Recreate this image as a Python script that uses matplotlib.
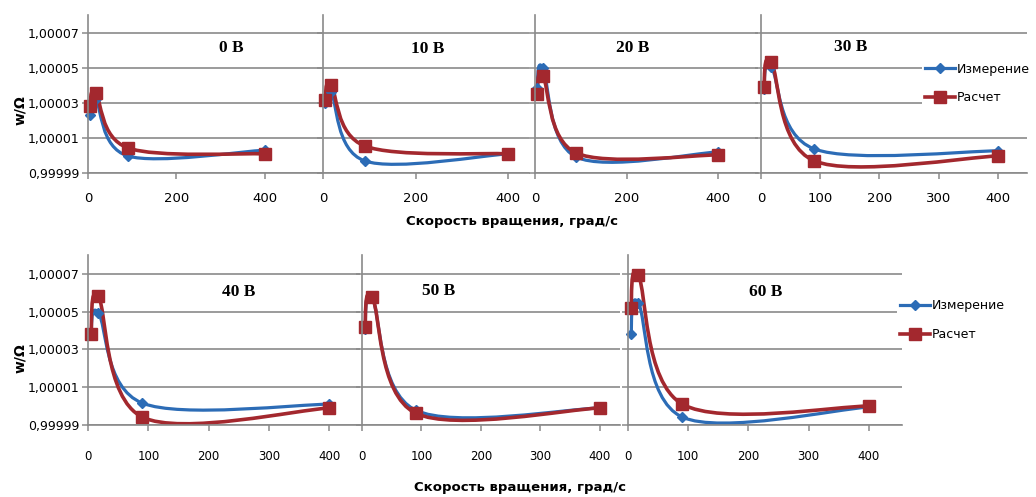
import numpy as np
import matplotlib
matplotlib.use("Agg")
import matplotlib.pyplot as plt
from matplotlib.path import Path
from matplotlib.patches import PathPatch
from matplotlib.lines import Line2D
from matplotlib.ticker import FuncFormatter

# ---- данные ----
speed = [5, 17, 90, 400]  # скорость вращения, град/с

voltages = ["0 В", "10 В", "20 В", "30 В", "40 В", "50 В", "60 В"]

izmerenie = [
    [1.0000231, 1.0000320, 0.9999997, 1.0000030],   # 0 В
    [1.0000300, 1.0000363, 0.9999969, 1.0000009],   # 10 В
    [1.0000386, 1.0000500, 0.9999991, 1.0000020],   # 20 В
    [1.0000380, 1.0000506, 1.0000037, 1.0000026],   # 30 В
    [1.0000374, 1.0000495, 1.0000016, 1.0000010],   # 40 В
    [1.0000410, 1.0000575, 0.9999979, 0.9999990],   # 50 В
    [1.0000384, 1.0000547, 0.9999942, 0.9999995],   # 60 В
]
raschet = [
    [1.0000283, 1.0000357, 1.0000043, 1.0000009],   # 0 В
    [1.0000317, 1.0000403, 1.0000054, 1.0000009],   # 10 В
    [1.0000351, 1.0000454, 1.0000014, 1.0000003],   # 20 В
    [1.0000391, 1.0000534, 0.9999969, 0.9999997],   # 30 В
    [1.0000384, 1.0000584, 0.9999942, 0.9999990],   # 40 В
    [1.0000421, 1.0000579, 0.9999963, 0.9999990],   # 50 В
    [1.0000521, 1.0000695, 1.0000011, 1.0000000],   # 60 В
]

y_ticks = [0.99999, 1.00001, 1.00003, 1.00005, 1.00007]
x_ticks = [[0, 200, 400], [0, 200, 400], [0, 200, 400], [0, 100, 200, 300, 400],
           [0, 100, 200, 300, 400], [0, 100, 200, 300, 400], [0, 100, 200, 300, 400]]

BLUE = "#2c6cb6"
RED = "#a3282e"
GRID = "#8a8a8a"

W, H = 1036, 497
fig = plt.figure(figsize=(W / 100, H / 100), dpi=100)


def fx(px):
    return px / W


def fy(py):
    return 1 - py / H


# положение панелей в пикселях: левый край оси, правый край, верх, низ, xmax
panels = [
    (88, 322, 15, 173, 529),
    (323, 529, 15, 173, 445),
    (535, 758, 15, 173, 487),
    (761, 1027, 15, 173, 449),
    (88, 360, 255, 425, 451),
    (362, 620, 255, 425, 434),
    (628, 902, 255, 425, 455),
]
title_pos = [(231, 48), (428, 49), (633, 48), (851, 47), (239, 292), (439, 291), (766, 292)]


def smooth_path(xs, ys):
    # сглаживание как в Excel (Catmull-Rom -> Безье)
    pts = np.column_stack([xs, ys]).astype(float)
    n = len(pts)
    verts = [pts[0]]
    codes = [Path.MOVETO]
    for i in range(n - 1):
        p0 = pts[i - 1] if i > 0 else pts[i]
        p1 = pts[i]
        p2 = pts[i + 1]
        p3 = pts[i + 2] if i + 2 < n else pts[i + 1]
        c1 = p1 + (p2 - p0) / 6
        c2 = p2 - (p3 - p1) / 6
        verts += [c1, c2, p2]
        codes += [Path.CURVE4] * 3
    return Path(verts, codes)


yfmt = FuncFormatter(lambda v, p: f"{v:.5f}".replace(".", ","))

for i, (l, r, t, b, xmax) in enumerate(panels):
    ax = fig.add_axes([fx(l), fy(b), fx(r - l), (b - t) / H])
    ax.set_xlim(0, xmax)
    ax.set_ylim(0.99999, 1.00008)
    ax.set_yticks(y_ticks)
    ax.set_xticks(x_ticks[i])
    ax.grid(axis="y", color=GRID, lw=1.2)
    ax.set_axisbelow(True)
    for s in ["top", "right"]:
        ax.spines[s].set_visible(False)
    for s in ["left", "bottom"]:
        ax.spines[s].set_color(GRID)
        ax.spines[s].set_linewidth(1.2)
    top_row = i < 4
    ax.tick_params(axis="both", direction="out", color=GRID, length=4, width=1.1)
    ax.tick_params(axis="x", labelsize=9.5 if top_row else 8.5,
                   pad=10 if top_row else 14)
    ax.tick_params(axis="y", labelsize=9, pad=2)
    ax.yaxis.set_major_formatter(yfmt)
    if i not in (0, 4):
        ax.tick_params(axis="y", labelleft=False)

    for vals, col, lw, mk, ms in [(izmerenie[i], BLUE, 2.3, "D", 5.5),
                                  (raschet[i], RED, 2.6, "s", 8)]:
        ax.add_patch(PathPatch(smooth_path(speed, vals), facecolor="none",
                               edgecolor=col, lw=lw, transform=ax.transData,
                               capstyle="round", joinstyle="round"))
        ax.plot(speed, vals, ls="none", marker=mk, ms=ms, color=col, clip_on=False)

    tx, ty = title_pos[i]
    fig.text(fx(tx), fy(ty), voltages[i], ha="center", va="center",
             family="Liberation Serif", fontweight="bold", fontsize=12.5)

# подписи осей
for yc in (110, 358):
    fig.text(fx(20), fy(yc), "w/Ω", rotation=90, ha="center", va="center",
             fontweight="bold", fontsize=10)
fig.text(fx(512), fy(222), "Скорость вращения, град/с", ha="center", va="center",
         fontweight="bold", fontsize=9.5)
fig.text(fx(520), fy(488), "Скорость вращения, град/с", ha="center", va="center",
         fontweight="bold", fontsize=9.5)

handles = [Line2D([], [], color=BLUE, lw=2.3, marker="D", ms=5.5),
           Line2D([], [], color=RED, lw=2.6, marker="s", ms=8)]
labels = ["Измерение", "Расчет"]
for lx, ly in [(922, 60), (897, 297)]:
    fig.legend(handles, labels, loc="upper left", bbox_to_anchor=(fx(lx), fy(ly)),
               frameon=True, facecolor="white", edgecolor="none", framealpha=1,
               fontsize=9, borderpad=0.2, borderaxespad=0, handlelength=2.4,
               handletextpad=0.15, labelspacing=1.25)

fig.savefig("out.png", dpi=100)
